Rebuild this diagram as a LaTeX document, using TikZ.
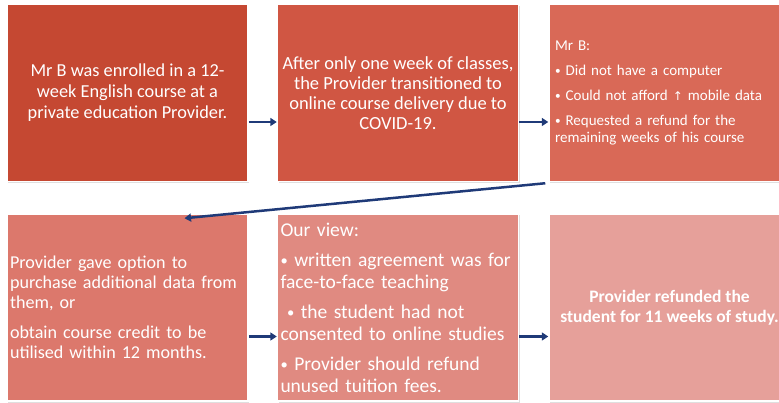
\documentclass[tikz,border=0pt]{standalone}
\usepackage{fontspec}
\setmainfont{Carlito}
\newfontfamily\symbfont{DejaVu Sans}
\usetikzlibrary{positioning,arrows.meta,shadows}

\definecolor{stepa}{HTML}{C54832}
\definecolor{stepb}{HTML}{D05643}
\definecolor{stepc}{HTML}{D96957}
\definecolor{stepd}{HTML}{DC786C}
\definecolor{stepe}{HTML}{E08A81}
\definecolor{stepf}{HTML}{E6A09A}
\definecolor{flownavy}{HTML}{1F3A78}

\newcommand{\smallbul}{\raisebox{0.12ex}{\scalebox{0.75}{•}}}

\tikzset{
	card/.style={draw=white, line width=1.5pt, text=white, minimum width=241pt,
		inner sep=3pt, drop shadow={shadow xshift=1pt, shadow yshift=-1.5pt, opacity=.25}},
	leftcard/.style={card, align=left, text width=235pt},
	toprow/.style={minimum height=177pt},
	botrow/.style={minimum height=187pt},
	flow/.style={draw=flownavy, line width=2.5pt, -{Triangle[length=6.5pt,width=8pt]}}
}

\begin{document}
\begin{tikzpicture}[x=1pt,y=1pt]
\useasboundingbox (0,0) rectangle (779,-403);

% TOP ROW

\node[card, toprow, fill=stepa, align=center, font=\fontsize{18.3}{21}\selectfont] (b1) at (127.5,-93)
	{Mr B was enrolled in a 12-\\week English course at a\\private education Provider.};
\node[card, toprow, fill=stepb, align=center, font=\fontsize{18.5}{20}\selectfont, right=28pt of b1] (b2)
	{After only one week of classes,\\the Provider transitioned to\\online course delivery due to\\COVID-19.};
\node[leftcard, toprow, fill=stepc, inner xsep=6pt, text width=229pt, font=\fontsize{15}{17}\selectfont, right=29pt of b2] (b3)
	{Mr B:\\[8pt]
	\smallbul{} Did not have a computer\\[8pt]
	\smallbul{} Could not afford {\symbfont\fontsize{12}{17}\selectfont ↑} mobile data\\[8pt]
	\smallbul{} Requested a refund for the\\remaining weeks of his course};

% BOTTOM ROW

\node[leftcard, botrow, fill=stepd, font=\fontsize{18.1}{20}\selectfont, below=31pt of b1] (b4)
	{Provider gave option to\\purchase additional data from\\them, or\\[10pt]
	obtain course credit to be\\utilised within 12 months.};
\node[leftcard, botrow, fill=stepe, font=\fontsize{19.5}{21.5}\selectfont, right=28pt of b4] (b5)
	{Our view:\\[9pt]
	\smallbul{} written agreement was for\\face-to-face teaching\\[9pt]
	\ \smallbul{} the student had not\\consented to online studies\\[9pt]
	\smallbul{} Provider should refund\\unused tuition fees.};
\node[card, botrow, fill=stepf, align=center, font=\fontsize{17.5}{20}\selectfont\bfseries, right=29pt of b5] (b6)
	{Provider refunded the\\student for 11 weeks of study.};

% ARROWS

\draw[flow] ([yshift=-29pt]b1.east) -- ([yshift=-29pt]b2.west);
\draw[flow] ([yshift=-29pt]b2.east) -- ([yshift=-29pt]b3.west);
\draw[flow] ([shift={(-3pt,-1pt)}]b3.south west) -- ([shift={(57pt,-5pt)}]b4.north);
\draw[flow] ([yshift=-29pt]b4.east) -- ([yshift=-29pt]b5.west);
\draw[flow] ([yshift=-29pt]b5.east) -- ([yshift=-29pt]b6.west);

\end{tikzpicture}
\end{document}
